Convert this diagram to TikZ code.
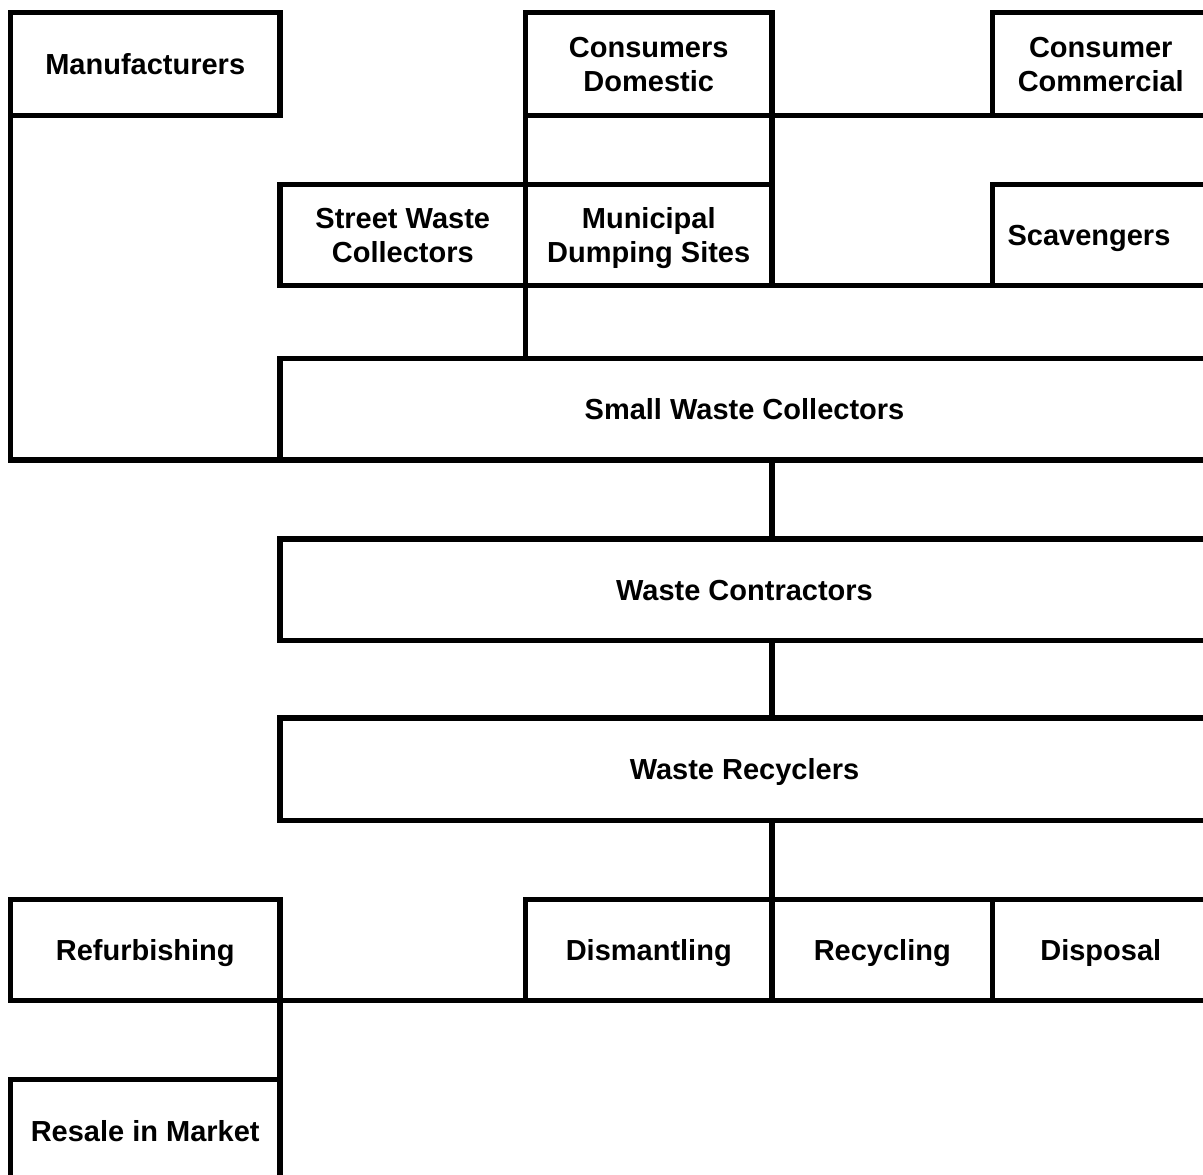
\documentclass[tikz,border=0pt]{standalone}
\usepackage{fontspec}
\setmainfont{Liberation Sans}
\begin{document}
\begin{tikzpicture}[x=1pt,y=-1pt,
  txt/.style={font=\fontsize{29}{33.5}\selectfont\bfseries},
  box/.style={draw, line width=5.5pt, rectangle, inner sep=0pt, outer sep=0pt, txt},
  one/.style={text height=20.8pt, text depth=0pt},
  two/.style={text height=54.3pt, text depth=0pt},
  lbl/.style={inner sep=0pt, txt, text height=20.8pt, text depth=0pt},
  conn/.style={line width=5.5pt}]
\useasboundingbox (0,0) rectangle (1203,1175);
\clip (0,0) rectangle (1203,1175);
\fill[white] (0,0) rectangle (1203,1175);
\coordinate (spine) at (772,0);
% top row
\node[box, one, minimum width=269.5pt, minimum height=103pt] (man) at (145.25,64) {Manufacturers};
\node[box, two, minimum width=246.5pt, minimum height=103pt] (dom) at (648.75,64) {\begin{tabular}[b]{@{}c@{}}Consumers\\Domestic\end{tabular}};
\node[box, two, minimum width=216.5pt, minimum height=103pt] (com) at (1100.75,64) {\begin{tabular}[b]{@{}c@{}}Consumer\\Commercial\end{tabular}};
% second row
\node[box, two, minimum width=245.5pt, minimum height=101pt] (swc) at (402.75,235) {\begin{tabular}[b]{@{}c@{}}Street Waste\\Collectors\end{tabular}};
\node[box, two, minimum width=246.5pt, minimum height=101pt] (mds) at (648.75,235) {\begin{tabular}[b]{@{}c@{}}Municipal\\Dumping Sites\end{tabular}};
\node[box, minimum width=216.5pt, minimum height=101pt] (scv) at (1100.75,235) {};
\node[lbl] (scvt) at (1089,235) {Scavengers};
% wide boxes
\node[box, one, minimum width=929pt, minimum height=101.5pt] (small) at (744.5,409.25) {Small Waste Collectors};
\node[box, one, minimum width=929pt, minimum height=101.5pt] (con) at (744.5,589.75) {Waste Contractors};
\node[box, one, minimum width=929pt, minimum height=102.5pt] (rec) at (744.5,769.25) {Waste Recyclers};
% bottom row
\node[box, one, minimum width=269.5pt, minimum height=101pt] (ref) at (145.25,950) {Refurbishing};
\node[box, one, minimum width=246.5pt, minimum height=101pt] (dis) at (648.75,950) {Dismantling};
\node[box, one, minimum width=220.5pt, minimum height=101pt] (rcy) at (882.25,950) {Recycling};
\node[box, one, minimum width=216.5pt, minimum height=101pt] (dsp) at (1100.75,950) {Disposal};
\node[box, one, minimum width=269.5pt, minimum height=103.5pt] (res) at (145.25,1131.25) {Resale in Market};
% connectors
\draw[conn] (man.south west) -- (man.south west |- small.south) -- (small.south west);
\draw[conn] (dom.south west) -- (mds.north west);
\draw[conn] (dom.south east) -- (mds.north east);
\draw[conn] (dom.south east) -- (com.south west);
\draw[conn] (mds.south east) -- (scv.south west);
\draw[conn] (mds.south west) -- (mds.south west |- small.north);
\draw[conn] (small.south -| spine) -- (con.north -| spine);
\draw[conn] (con.south -| spine) -- (rec.north -| spine);
\draw[conn] (rec.south -| spine) -- (dis.north east);
\draw[conn] (ref.south east) -- (dis.south west);
\draw[conn] (ref.south east) -- (res.north east);
\end{tikzpicture}
\end{document}
